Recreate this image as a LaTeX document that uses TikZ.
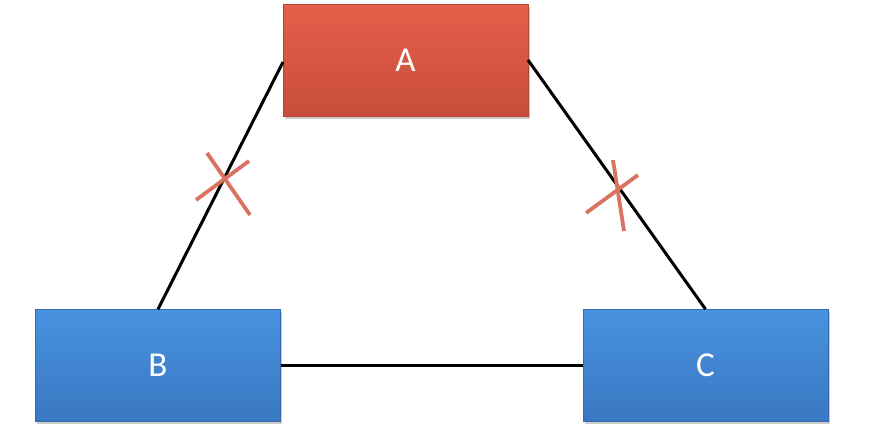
\documentclass[tikz,border=0pt]{standalone}
\usepackage{fontspec}
\setmainfont{Carlito}
\usetikzlibrary{shadows}
\definecolor{redtop}{HTML}{E45F4A}
\definecolor{redbot}{HTML}{C84D3A}
\definecolor{bluetop}{HTML}{4892DF}
\definecolor{bluebot}{HTML}{3977C2}
\definecolor{crossc}{HTML}{D9735F}
\tikzset{
  boxbase/.style={rectangle, minimum width=245pt, minimum height=112pt, inner sep=0pt,
    text=white, font=\fontsize{35}{35}\selectfont,
    drop shadow={shadow xshift=1.5pt, shadow yshift=-2.5pt, opacity=0.4}},
  redbox/.style={boxbase, top color=redtop, bottom color=redbot, draw=redbot!90!black, line width=0.6pt},
  bluebox/.style={boxbase, top color=bluetop, bottom color=bluebot, draw=bluebot!90!black, line width=0.6pt},
  link/.style={line width=3pt, black},
  crossline/.style={line width=3.8pt, crossc}
}
\begin{document}
\begin{tikzpicture}[x=1pt,y=-1pt]
\useasboundingbox (0,0) rectangle (874,446);
\node[redbox] (A) at (405.5,60.5) {A};
\node[bluebox] (B) at (158,365.5) {B};
\node[bluebox] (C) at (705.5,365.5) {C};
\coordinate (Al) at (283,62);
\coordinate (Ar) at (528,60);
\draw[link] (Al) -- (B.north);
\draw[link] (Ar) -- (C.north);
\draw[link] (B.east) -- (C.west);
\coordinate (x1a) at (207,153); \coordinate (x1b) at (250,215);
\coordinate (x1c) at (196,200); \coordinate (x1d) at (249,161);
\draw[crossline] (x1a) -- (x1b);
\draw[crossline] (x1c) -- (x1d);
\coordinate (x2a) at (613,160); \coordinate (x2b) at (624,231);
\coordinate (x2c) at (586,213); \coordinate (x2d) at (638,175);
\draw[crossline] (x2a) -- (x2b);
\draw[crossline] (x2c) -- (x2d);
\end{tikzpicture}
\end{document}
